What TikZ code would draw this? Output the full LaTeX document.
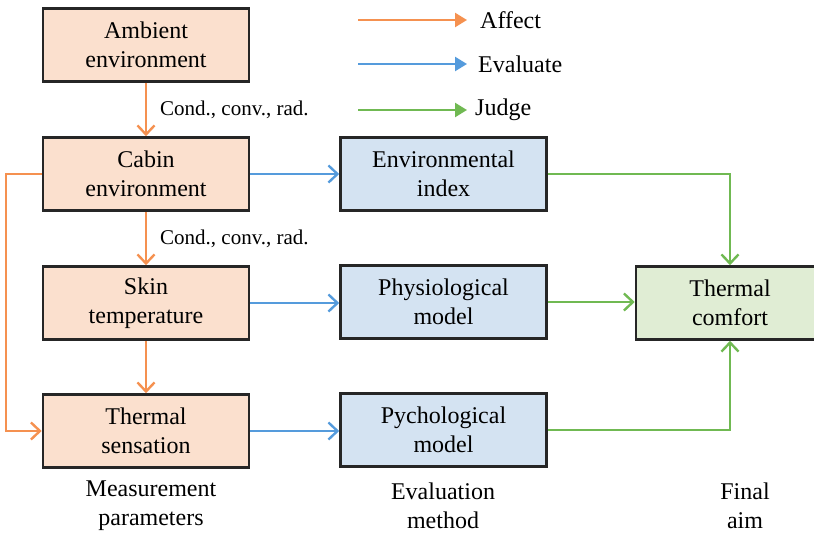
\documentclass[tikz,border=0pt]{standalone}
\usepackage{fontspec}
\setmainfont{Liberation Serif}
\usetikzlibrary{arrows.meta}

\definecolor{affectc}{RGB}{245,145,80}
\definecolor{evalc}{RGB}{85,155,220}
\definecolor{judgec}{RGB}{112,185,82}
\definecolor{measfill}{RGB}{251,224,206}
\definecolor{evalfill}{RGB}{212,227,242}
\definecolor{aimfill}{RGB}{224,237,212}
\definecolor{edgec}{RGB}{38,38,38}

\begin{document}
\begin{tikzpicture}[x=1pt, y=-1pt,
  box/.style={draw=edgec, line width=2.6pt, minimum width=206pt, minimum height=73pt,
    align=center, inner sep=2pt, font=\fontsize{24}{29}\selectfont},
  meas/.style={box, fill=measfill},
  evalbox/.style={box, fill=evalfill},
  aimbox/.style={box, fill=aimfill, minimum width=188pt},
  txt/.style={align=center, inner sep=0pt, font=\fontsize{24}{29}\selectfont},
  cond/.style={right, inner sep=0pt, xshift=13pt, font=\fontsize{21}{25}\selectfont},
  affect/.style={draw=affectc, line width=2.4pt, -{Straight Barb[length=9pt,width=17pt]}},
  evaluate/.style={draw=evalc, line width=2.4pt, -{Straight Barb[length=9pt,width=17pt]}},
  judge/.style={draw=judgec, line width=2.4pt, -{Straight Barb[length=9pt,width=17pt]}},
  legline/.style={line width=2.4pt, -{Triangle[length=12pt,width=14pt]}}]
  \useasboundingbox (0,0) rectangle (814,533);

  % measurement parameters
  \node[meas] (amb) at (146,45) {Ambient\\environment};
  \node[meas] (cab) at (146,174) {Cabin\\environment};
  \node[meas] (skin) at (146,303) {Skin\\temperature};
  \node[meas] (sens) at (146,431) {Thermal\\sensation};

  % evaluation method
  \node[evalbox] (env) at (443.5,174) {Environmental\\index};
  \node[evalbox] (phys) at (443.5,302) {Physiological\\model};
  \node[evalbox] (psy) at (443.5,430) {Pychological\\model};

  % final aim
  \node[aimbox] (comf) at (730,303) {Thermal\\comfort};

  % column captions
  \node[txt] (capmeas) at (151,506) {Measurement\\parameters};
  \node[txt] (capeval) at (443,506) {Evaluation\\method};
  \node[txt] (capaim) at (745,506) {Final\\aim};

  % legend
  \coordinate (la) at (358,20);
  \coordinate (le) at (358,64);
  \coordinate (lj) at (358,110);
  \node[txt, anchor=west, inner xsep=13pt] (laffect) at (467,20) {Affect};
  \node[txt, anchor=west, inner xsep=11pt] (levaluate) at (467,64) {Evaluate};
  \node[txt, anchor=west, inner xsep=8pt] (ljudge) at (467,110) {Judge};
  \draw[legline, affectc] (la) -- (laffect.west);
  \draw[legline, evalc] (le) -- (levaluate.west);
  \draw[legline, judgec] (lj) -- (ljudge.west);

  % affect
  \draw[affect] (amb) -- node[cond] {Cond., conv., rad.} (cab);
  \draw[affect] (cab) -- node[cond] {Cond., conv., rad.} (skin);
  \draw[affect] (skin) -- (sens);
  \draw[affect] (cab.west) -- ++(-36,0) |- (sens.west);

  % evaluate
  \draw[evaluate] (cab) -- (env);
  \draw[evaluate] (skin.east) -- (skin.east -| phys.west);
  \draw[evaluate] (sens.east) -- (sens.east -| psy.west);

  % judge
  \draw[judge] (env.east) -| (comf.north);
  \draw[judge] (phys.east) -- (phys.east -| comf.west);
  \draw[judge] (psy.east) -| (comf.south);
\end{tikzpicture}
\end{document}
